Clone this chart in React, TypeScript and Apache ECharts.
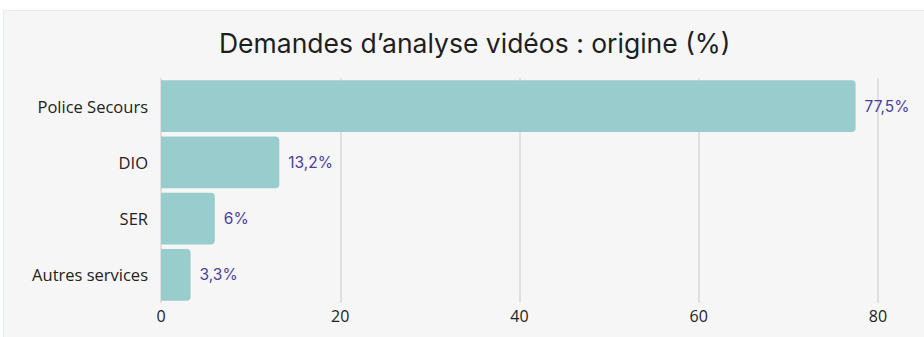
import React, { useEffect, useRef } from "react";
import * as echarts from "echarts";

const categories = ["Police Secours", "DIO", "SER", "Autres services"];
const values = [77.5, 13.2, 6, 3.3];
const valueLabels = ["77,5%", "13,2%", "6%", "3,3%"];
const xTicks = [0, 20, 40, 60, 80];
const titleText = "Demandes d\u2019analyse vidéos : origine (%)";

export default function App() {
  const ref = useRef<HTMLDivElement>(null);
  useEffect(() => {
    if (!ref.current) return;
    const chart = echarts.init(ref.current, undefined, { renderer: "svg" });
    chart.setOption({
      animation: false,
      backgroundColor: "#ffffff",
      graphic: [
        {
          type: "rect",
          shape: { x: 3.5, y: 10.5, width: 930, height: 340 },
          style: { fill: "#f6f6f6", stroke: "#e2eef0", lineWidth: 1 },
          z: -10,
        },
      ],
      title: {
        text: titleText,
        left: 214,
        top: 24,
        textStyle: {
          fontFamily: "Inter",
          fontSize: 26.5,
          fontWeight: 400,
          color: "#1e1e1e",
        },
      },
      grid: { left: 161, right: 46, top: 78, bottom: 34 },
      xAxis: {
        type: "value",
        min: xTicks[0],
        max: xTicks[xTicks.length - 1],
        interval: 20,
        axisLine: { show: false },
        axisTick: { show: false },
        axisLabel: {
          color: "#222",
          fontFamily: "Open Sans",
          fontSize: 16,
          margin: 5,
        },
        splitLine: { lineStyle: { color: "#d9d9d9", width: 1.5 } },
      },
      yAxis: {
        type: "category",
        data: categories,
        inverse: true,
        axisLine: { show: false },
        axisTick: { show: false },
        axisLabel: {
          color: "#222",
          fontFamily: "Open Sans",
          fontSize: 16.5,
          margin: 13,
        },
      },
      series: [
        {
          type: "bar",
          data: values,
          barCategoryGap: "8.3%",
          itemStyle: { color: "#99cccc", borderRadius: [0, 4, 4, 0] },
          label: {
            show: true,
            position: "right",
            distance: 9,
            color: "#4a3f9f",
            fontFamily: "Inter",
            fontSize: 15.5,
            formatter: (p: any) => valueLabels[p.dataIndex],
          },
        },
      ],
    });
    return () => chart.dispose();
  }, []);
  return (
    <div
      ref={ref}
      style={{ position: "fixed", left: 0, top: 0, width: 924, height: 337 }}
    />
  );
}
